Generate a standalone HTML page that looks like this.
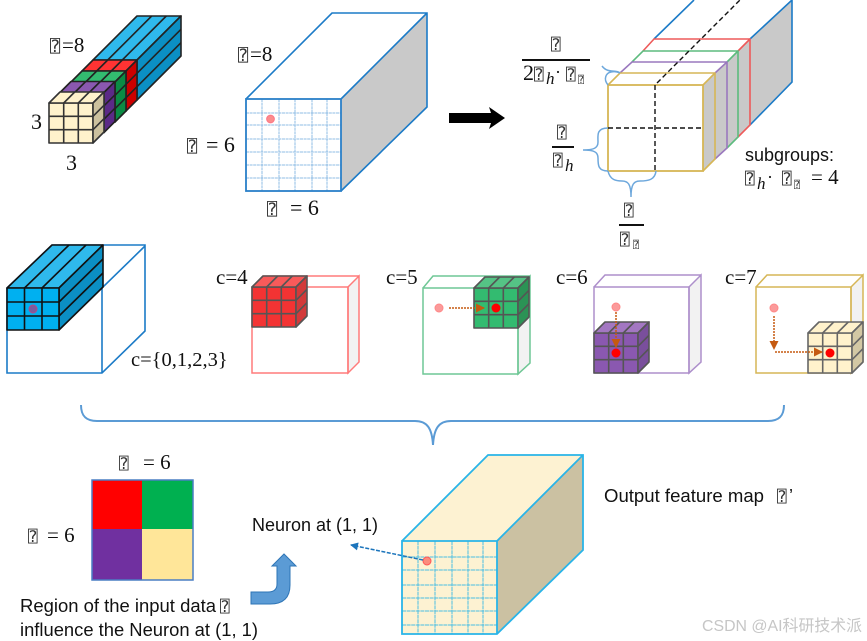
<!DOCTYPE html>
<html><head><meta charset="utf-8"><style>
html,body{margin:0;padding:0;background:#fff;width:867px;height:641px;overflow:hidden}
svg{display:block}
text{font-family:"Liberation Serif",serif;fill:#111;font-size:21px}
.t{font-family:"DejaVu Sans Mono",monospace;fill:#333}
.s{font-family:"Liberation Sans",sans-serif;font-size:18px;fill:#111}
.i{font-style:italic}
.line{fill:none;stroke-width:1.6}
.grid{fill:none;stroke:#6aa5db;stroke-width:1;stroke-opacity:.75;stroke-dasharray:3 .6}
.g2{fill:none;stroke:#2cb5e6;stroke-width:1;stroke-opacity:.85;stroke-dasharray:4 .6}
</style></head><body>
<svg width="867" height="641" viewBox="0 0 867 641" xmlns="http://www.w3.org/2000/svg">
<defs>
<g id="c" style="stroke:var(--k);stroke-width:1.6;stroke-linejoin:round">
<rect x="0" y="0" width="44" height="40" style="fill:var(--f)"/>
<polygon points="0,0 44,0 55,-11 11,-11" style="fill:var(--u)"/>
<polygon points="44,0 55,-11 55,29 44,40" style="fill:var(--r)"/>
<path d="M14.7 0V40M29.3 0V40M0 13.3H44M0 26.7H44M14.7 0L25.7 -11M29.3 0L40.3 -11M44 13.3L55 2.3M44 26.7L55 15.7" fill="none"/>
</g>
<marker id="o" markerWidth="12" markerHeight="10" refX="8" refY="4.500" orient="auto" markerUnits="userSpaceOnUse"><path d="M0 0L9 4.500L0 9Z" fill="#c55a11"/></marker>
<marker id="b" markerWidth="10" markerHeight="10" refX="7" refY="4" orient="auto" markerUnits="userSpaceOnUse"><path d="M0 0L8 4L0 8Z" fill="#1c75bc"/></marker>
</defs>

<!-- small stack -->
<g stroke="#222" stroke-width="1.600" stroke-linejoin="round">
<polygon points="93,60 137,60 181,16 137,16" fill="#2fb9ec"/>
<polygon points="137,60 181,16 181,56 137,100" fill="#0b8fc4"/>
<path d="M107.700 60L151.700 16M122.300 60L166.300 16M137 73.300L181 29.300M137 86.700L181 42.700" fill="none"/>
</g>
<use href="#c" x="82" y="71" style="--f:#f33;--u:#ff3333;--r:#cc0000;--k:#222"/>
<use href="#c" x="71" y="82" style="--f:#3b7;--u:#33bb70;--r:#0b8b44;--k:#222"/>
<use href="#c" x="60" y="92.500" style="--f:#85a;--u:#8a58b0;--r:#5b2a87;--k:#222"/>
<use href="#c" x="49" y="103" style="--f:#fff2cc;--u:#fff2cc;--r:#ccc19e;--k:#333"/>
<text x="50" y="52" class="t" style="font-size:17px">⍰</text><text x="62" y="52">=8</text>
<text x="31" y="129" style="font-size:22px">3</text><text x="66" y="170" style="font-size:22px">3</text>

<!-- blue cuboid -->
<polygon points="341,99 427,13 427,107 341,191" fill="#c9c9c9"/>
<path d="M246 99L332 13H427V107L341 191M341 99L427 13" fill="none" stroke="#1c7bc7" stroke-width="1.600"/>
<path class="grid" d="M262 99V191M279 99V191M295 99V191M312 99V191M327 99V191M246 113H341M246 125H341M246 139H341M246 152H341M246 165H341M246 178H341"/>
<rect x="246" y="99" width="95" height="92" fill="none" stroke="#2a80c8" stroke-width="1.800"/>
<circle cx="270.500" cy="119" r="4" fill="#fb8c8c" stroke="#f46" stroke-opacity=".5"/>
<text x="238" y="61" class="t" style="font-size:17px">⍰</text><text x="250" y="61">=8</text>
<text x="187" y="152" class="t" style="font-size:17px">⍰</text><text x="206" y="152" style="font-size:22px">= 6</text>
<text x="267" y="215" class="t" style="font-size:17px">⍰</text><text x="290" y="215" style="font-size:22px">= 6</text>

<!-- arrow -->
<polygon points="449,113 491,113 489,107 505,118 489,129 491,123 449,123" fill="#000"/>

<!-- right stack -->
<polygon points="703,85 750,39 792,0 792,82 750,125 703,171" fill="#c9c9c9"/>
<path d="M654 39L694 0M750 39L792 0V82L750 125" class="line" stroke="#1c7bc7"/>
<path d="M643 51L654 39H750V125L738 137M738 51L750 39" class="line" stroke="#ee5a5a"/>
<path d="M632 62L643 51H738V137L727 148M727 62L738 51" class="line" stroke="#5dbb7e"/>
<path d="M620 73L632 62H727V148L715 159M715 73L727 62" class="line" stroke="#9a78be"/>
<path d="M608 85L620 73H715V159L703 171M703 85L715 73" class="line" stroke="#d6b656"/>
<rect x="608" y="85" width="95" height="86" fill="none" stroke="#d6b656" stroke-width="1.800"/>
<path d="M655 85V171M608 128H703M657 83L740 0" fill="none" stroke="#111" stroke-width="1.400" stroke-dasharray="5 3"/>
<g fill="none" stroke="#6ea8dc" stroke-width="1.500">
<path d="M608 128C596 128 598 136 598 142C598 148 594 150 583 150C594 150 598 152 598 158C598 165 598 171 608 171"/>
<path d="M608 171C610 180 616 181 622 181C628 181 631 184 631 197C631 184 634 181 640 181C648 181 655 180 656 171"/>
<path d="M608 85C603 79 606 73 611 72C615 71 618 72 620 73C616 69 608 74 602 66"/>
</g>
<g>
<text x="551" y="50" class="t" style="font-size:16px">⍰</text>
<rect x="522" y="59" width="68" height="2" fill="#111"/>
<text x="523" y="80" style="font-size:22px">2</text><text x="534" y="80" class="t" style="font-size:16px">⍰</text><text x="546" y="84" class="i" style="font-size:17px">h</text><text x="555" y="78" style="font-size:18px">·</text><text x="566" y="80" class="t" style="font-size:16px">⍰</text><text x="578" y="83" class="t" style="font-size:10px">⍰</text>
<text x="557" y="138" class="t" style="font-size:16px">⍰</text>
<rect x="552" y="146" width="22" height="2" fill="#111"/>
<text x="553" y="166" class="t" style="font-size:16px">⍰</text><text x="565" y="171" class="i" style="font-size:17px">h</text>
<text x="624" y="216" class="t" style="font-size:16px">⍰</text>
<rect x="619" y="224" width="25" height="2" fill="#111"/>
<text x="620" y="245" class="t" style="font-size:16px">⍰</text><text x="633" y="248" class="t" style="font-size:10px">⍰</text>
</g>
<text x="745" y="161" class="s" textLength="89" lengthAdjust="spacingAndGlyphs">subgroups:</text>
<text x="745" y="184" class="t" style="font-size:16px">⍰</text><text x="757" y="189" class="i" style="font-size:17px">h</text><text x="767" y="183" style="font-size:18px">·</text><text x="782" y="184" class="t" style="font-size:16px">⍰</text><text x="794" y="188" class="t" style="font-size:10px">⍰</text><text x="811" y="184" style="font-size:21px">= 4</text>

<!-- row 2 -->
<path d="M7 288L52 245H145V331L102 373H7ZM102 288V373M7 288H102L145 246" fill="none" stroke="#1c7bc7" stroke-width="1.600"/>
<g stroke="#111" stroke-width="1.600" stroke-linejoin="round">
<polygon points="7,288 59,288 103,245 52,245" fill="#2fb9ec"/>
<polygon points="59,288 103,245 103,287 59,330" fill="#0b8fc4"/>
<rect x="7" y="288" width="52" height="42" fill="#00b0f0"/>
<path d="M24.500 288V330M42 288V330M7 302H59M7 316H59M24.500 288L69 245M42 288L86 245M59 302L103 259M59 316L103 273" fill="none"/>
</g>
<circle cx="33" cy="309" r="4" fill="#7b5c9e" stroke="#b04a8a"/>
<text x="131" y="366" style="font-size:20.500px">c={0,1,2,3}</text>

<g fill="none" stroke-width="1.500">
<polygon points="348,287 359,276 359,362 348,373" fill="#f2f2f2" stroke="#ff7b7b"/>
<path d="M252 287L263 276H359M252 287H348V373H252Z" stroke="#ff7b7b"/>
<polygon points="518,288 530,276 530,363 518,374" fill="#f2f2f2" stroke="#6fc795"/>
<path d="M423 288L433 276H530M423 288H518V374H423Z" stroke="#6fc795"/>
<polygon points="689,287 701,275 701,362 689,373" fill="#f2f2f2" stroke="#ad8fcb"/>
<path d="M594 287L605 275H701M594 287H689V373H594Z" stroke="#ad8fcb"/>
<polygon points="851,287 863,275 863,362 851,373" fill="#f2f2f2" stroke="#d6b656"/>
<path d="M756 287L767 275H863M756 287H851V373H756Z" stroke="#d6b656"/>
</g>
<use href="#c" x="252" y="287" style="--f:#f33333;--u:#f85a5a;--r:#d23a3a;--k:#555"/>
<use href="#c" x="474" y="288" style="--f:#33bb70;--u:#55c385;--r:#2b9355;--k:#555"/>
<use href="#c" x="594" y="333" style="--f:#8a58b0;--u:#a377c2;--r:#7a4f9c;--k:#555"/>
<use href="#c" x="808" y="333" style="--f:#fff2cc;--u:#fff2cc;--r:#d3c8a4;--k:#666"/>

<text x="216" y="284">c=4</text>
<text x="386" y="284">c=5</text>
<text x="556" y="284">c=6</text>
<text x="725" y="284">c=7</text>

<g fill="#fb9a9a" stroke="#f88" stroke-width="1">
<circle cx="439" cy="308" r="4"/><circle cx="616" cy="307" r="4"/><circle cx="774" cy="308" r="4"/>
</g>
<g fill="#f00"><circle cx="496" cy="308" r="4.500"/><circle cx="616" cy="353" r="4.500"/><circle cx="830" cy="353" r="4.500"/></g>
<g fill="none" stroke="#c55a11" stroke-width="1.500" stroke-dasharray="2 1">
<path d="M449 308H484" marker-end="url(#o)"/>
<path d="M616 312V347" marker-end="url(#o)"/>
<path d="M774 316V349" marker-end="url(#o)"/>
<path d="M775 352H822" marker-end="url(#o)"/>
</g>

<!-- big brace -->
<path d="M81 405C81 416 86 421 97 421H415C427 421 432 428 433 445C434 428 439 421 451 421H768C779 421 784 416 784 405" fill="none" stroke="#5b9bd5" stroke-width="2"/>

<!-- square -->
<rect x="92" y="480" width="50" height="50" fill="#f00"/>
<rect x="142" y="480" width="51" height="50" fill="#00b050"/>
<rect x="92" y="529" width="50" height="51" fill="#7030a0"/>
<rect x="142" y="529" width="51" height="51" fill="#ffe699"/>
<rect x="92" y="480" width="101" height="100" fill="none" stroke="#4a7ec4" stroke-width="1.500"/>
<text x="119" y="469" class="t" style="font-size:16px">⍰</text><text x="143" y="469">= 6</text>
<text x="28" y="542" class="t" style="font-size:16px">⍰</text><text x="47" y="542">= 6</text>
<text x="20" y="612" class="s" textLength="196" lengthAdjust="spacingAndGlyphs">Region of the input data</text><text x="220" y="612" class="t" style="font-size:16px">⍰</text>
<text x="20" y="636" class="s" textLength="238" lengthAdjust="spacingAndGlyphs">influence the Neuron at (1, 1)</text>
<path d="M251 592H268Q277 592 277 584V566H272L284 554L296 566H290V585Q290 604 270 604H251Z" fill="#5b9bd5" stroke="#2e75b6"/>
<text x="252" y="531" class="s" textLength="126" lengthAdjust="spacingAndGlyphs">Neuron at (1, 1)</text>

<!-- output cuboid -->
<polygon points="402,541 488,455 583,455 497,541" fill="#fdf2d2"/>
<polygon points="497,541 583,455 583,550 497,634" fill="#cbc1a2"/>
<rect x="402" y="541" width="95" height="93" fill="#fdf2d2"/>
<path class="g2" d="M418 541V634M435 541V634M452 541V634M468 541V634M483 541V634M402 557H497M402 570H497M402 585H497M402 598H497M402 611H497M402 625H497"/>
<path d="M402 541L488 455H583V550L497 634H402V541H497V634M497 541L583 455" fill="none" stroke="#29b4e8" stroke-width="1.800"/>
<circle cx="427" cy="561" r="4" fill="#fb8c7c" stroke="#f55"/>
<path d="M423 560L351 545" fill="none" stroke="#1c75bc" stroke-width="1.500" stroke-dasharray="4 1.500" marker-end="url(#b)"/>
<text x="604" y="502" class="s" textLength="160" lengthAdjust="spacingAndGlyphs">Output feature map</text><text x="777" y="502" class="t" style="font-size:16px">⍰</text><text x="789" y="502" class="s">’</text>

<text x="702" y="631" style="font-family:'Liberation Sans','Noto Sans CJK SC',sans-serif;font-size:16px;fill:#c6c6c6" textLength="160" lengthAdjust="spacingAndGlyphs">CSDN @AI科研技术派</text>
</svg>
</body></html>
